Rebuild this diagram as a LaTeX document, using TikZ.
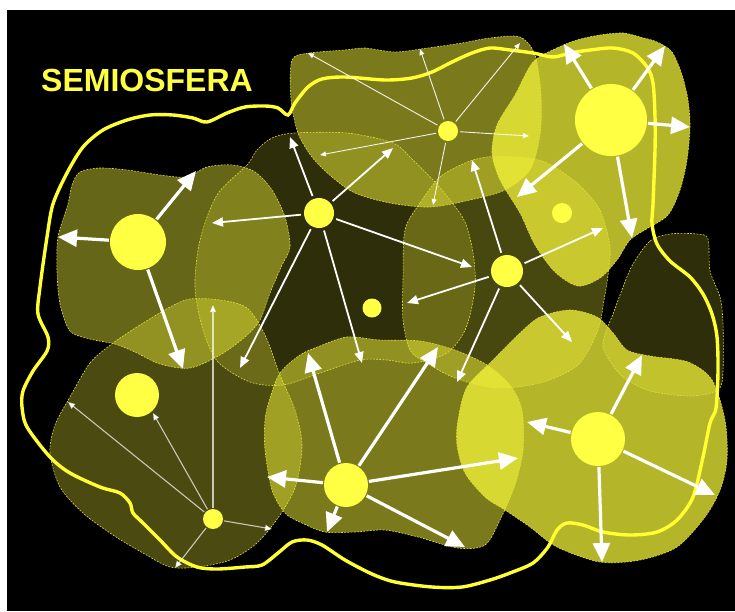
\documentclass[tikz,border=0pt]{standalone}
\usepackage{fontspec}
\newfontfamily\titlefont{Liberation Sans}
\usetikzlibrary{arrows.meta}
\definecolor{sy}{RGB}{255,255,60}
\definecolor{cy}{RGB}{255,255,68}
\definecolor{bl}{RGB}{225,225,60}
\definecolor{curvey}{RGB}{255,255,50}
\begin{document}
\begin{tikzpicture}[x=1pt,y=-1pt,
  blobline/.style={draw=bl, line width=0.6pt, dash pattern=on 1.8pt off 1.4pt},
  dot/.style={circle, fill=cy, inner sep=0pt, draw=none},
  bigarrow/.style={draw=white, line width=3.2pt, -{Triangle[length=19pt,width=17pt]}, shorten <=1pt},
  midarrow/.style={draw=white, line width=1.8pt, -{Triangle[length=11pt,width=9pt]}, shorten <=3pt},
  thinarrow/.style={draw=white, draw opacity=0.9, line width=0.9pt, -{Triangle[length=6pt,width=5pt]}, shorten <=2pt},
  greyarrow/.style={draw=white, draw opacity=0.7, line width=1.1pt, -{Triangle[length=7pt,width=6pt]}, shorten <=1pt},
  semio/.style={draw=curvey, line width=3.4pt}
]
\useasboundingbox (0,0) rectangle (735,611);
\fill[white] (0,0) rectangle (735,611);
\fill[black] (7,10) rectangle (735,611);

% blob outlines
\path[save path=\bLeft] plot[smooth cycle] coordinates {(68,204) (72,185) (80,172) (100,168) (127,170) (160,175) (187,177) (207,167) (233,165) (255,172) (272,190) (285,217) (290,247) (282,265) (270,293) (260,320) (245,337) (220,355) (190,368) (160,364) (135,352) (115,344) (90,339) (70,331) (60,304) (57,271) (58,237)};
\path[save path=\bCL] plot[smooth cycle] coordinates {(247,165) (257,150) (272,138) (295,133) (347,133) (393,143) (413,160) (433,180) (450,200) (465,222) (473,253) (475,287) (466,328) (447,353) (413,363) (387,360) (360,360) (320,373) (283,385) (250,382) (218,362) (203,330) (195,287) (200,240) (217,195)};
\path[save path=\bTop] plot[smooth cycle] coordinates {(292,60) (310,53) (345,50) (365,48) (395,52) (428,48) (462,43) (490,38) (520,37) (535,55) (541,95) (540,135) (530,170) (505,190) (470,200) (430,207) (390,203) (355,193) (332,177) (312,157) (298,133) (291,100)};
\path[save path=\bTR] plot[smooth cycle] coordinates {(533,62) (557,48) (577,40) (600,35) (623,33) (640,37) (657,42) (672,52) (682,75) (688,100) (690,127) (687,160) (680,190) (668,215) (648,228) (630,240) (617,260) (600,278) (578,286) (555,272) (535,245) (520,213) (500,180) (492,153) (497,125) (515,95)};
\path[save path=\bRC] plot[smooth cycle] coordinates {(405,230) (420,203) (440,177) (465,163) (487,157) (520,157) (547,163) (577,183) (600,210) (610,247) (608,275) (604,300) (598,330) (578,365) (540,383) (495,388) (455,378) (425,362) (410,350) (403,320) (403,280)};
\path[save path=\bRD] plot[smooth cycle] coordinates {(633,264) (650,241) (670,234) (697,234) (708,239) (710,271) (720,297) (723,324) (723,371) (718,390) (690,396) (650,391) (623,377) (610,361) (603,347) (605,334) (613,314) (623,287)};
\path[save path=\bBR] plot[smooth cycle] coordinates {(458,420) (467,387) (493,360) (520,333) (540,317) (570,310) (597,317) (613,333) (627,350) (650,356) (688,362) (712,380) (725,420) (727,460) (720,490) (705,517) (677,547) (640,560) (600,562) (557,547) (530,527) (505,510) (485,497) (465,473) (457,445)};
\path[save path=\bBC] plot[smooth cycle] coordinates {(270,398) (280,373) (300,355) (320,346) (347,337) (380,340) (420,341) (455,350) (487,365) (510,385) (522,410) (523,450) (515,485) (500,520) (485,545) (458,548) (418,537) (385,530) (355,532) (325,532) (302,523) (285,513) (272,490) (265,450) (265,420)};
\path[save path=\bBL] plot[smooth cycle] coordinates {(70,397) (90,363) (113,343) (140,325) (170,307) (190,299) (220,300) (247,308) (265,335) (280,375) (295,410) (302,445) (296,485) (280,515) (257,543) (230,560) (197,567) (170,567) (143,553) (113,535) (83,513) (60,487) (50,453) (55,425)};

% fills
\path[use path=\bLeft, fill=sy, fill opacity=0.40];
\path[use path=\bCL, fill=sy, fill opacity=0.18];
\path[use path=\bTop, fill=sy, fill opacity=0.48];
\path[use path=\bTR, fill=sy, fill opacity=0.71];
\path[use path=\bRC, fill=sy, fill opacity=0.28];
\path[use path=\bRD, fill=sy, fill opacity=0.18];
\path[use path=\bBR, fill=sy, fill opacity=0.71];
\path[use path=\bBC, fill=sy, fill opacity=0.48];
\path[use path=\bBL, fill=sy, fill opacity=0.29];
% dashed borders
\path[use path=\bLeft, blobline];
\path[use path=\bCL, blobline];
\path[use path=\bTop, blobline];
\path[use path=\bTR, blobline];
\path[use path=\bRC, blobline];
\path[use path=\bRD, blobline];
\path[use path=\bBR, blobline];
\path[use path=\bBC, blobline];
\path[use path=\bBL, blobline];

% semiosphere boundary
\draw[semio] plot[smooth cycle, tension=0.5] coordinates {(53,204) (67,173) (83,147) (103,130) (127,120) (150,115) (173,115) (193,118) (207,122) (227,113) (245,107) (265,106) (278,108) (288,115) (295,103) (308,87) (322,79) (345,77) (385,80) (412,78) (432,72) (452,62) (472,53) (490,48) (510,50) (533,53) (553,57) (570,53) (590,50) (613,48) (633,53) (647,67) (653,83) (655,117) (655,150) (653,204) (652,224) (657,244) (670,261) (690,277) (703,294) (712,314) (717,337) (718,371) (716,408) (710,423) (703,457) (693,497) (677,520) (657,532) (630,535) (603,532) (583,525) (567,523) (557,530) (548,547) (533,563) (510,573) (490,580) (462,587) (432,587) (395,582) (372,574) (345,560) (322,545) (307,540) (292,542) (278,553) (262,565) (245,567) (217,569) (197,567) (177,557) (160,540) (143,523) (133,513) (130,503) (120,493) (100,487) (70,473) (50,457) (27,427) (22,407) (23,391) (33,371) (47,351) (48,337) (38,314) (40,287) (47,237)};

% title
\node[anchor=base west, inner sep=0pt, text=cy, font=\titlefont\bfseries\fontsize{32}{38}\selectfont] (title) at (41,91) {SEMIOSFERA};

% nodes
\node[dot, minimum size=20pt] (n1) at (448,131) {};
\node[dot, minimum size=72pt] (n2) at (611,120) {};
\node[dot, minimum size=20pt] (n3) at (562,213) {};
\node[dot, minimum size=30pt] (n4) at (319,213) {};
\node[dot, minimum size=32pt] (n5) at (507,271) {};
\node[dot, minimum size=19pt] (n6) at (372,308) {};
\node[dot, minimum size=56pt] (n7) at (138,242) {};
\node[dot, minimum size=44pt] (n8) at (137,395) {};
\node[dot, minimum size=20pt] (n9) at (213,519) {};
\node[dot, minimum size=44pt] (n10) at (346,485) {};
\node[dot, minimum size=54pt] (n11) at (598,439) {};

% arrow tips
\coordinate (a1) at (308,53);
\coordinate (a2) at (420,49);
\coordinate (a3) at (320,155);
\coordinate (a4) at (433,205);
\coordinate (a5) at (529,136);
\coordinate (a6) at (520,43);
\draw[thinarrow] (n1) -- (a1);
\draw[thinarrow] (n1) -- (a2);
\draw[thinarrow] (n1) -- (a3);
\draw[thinarrow] (n1) -- (a4);
\draw[thinarrow] (n1) -- (a5);
\draw[thinarrow] (n1) -- (a6);

\coordinate (b1) at (564,44);
\coordinate (b2) at (665,46);
\coordinate (b3) at (690,127);
\coordinate (b4) at (517,197);
\coordinate (b5) at (632,238);
\draw[bigarrow] (n2) -- (b1);
\draw[bigarrow] (n2) -- (b2);
\draw[bigarrow] (n2) -- (b3);
\draw[bigarrow] (n2) -- (b4);
\draw[bigarrow] (n2) -- (b5);

\coordinate (c1) at (212,223);
\coordinate (c2) at (290,137);
\coordinate (c3) at (393,148);
\coordinate (c4) at (472,267);
\coordinate (c5) at (362,363);
\coordinate (c6) at (240,368);
\draw[midarrow] (n4) -- (c1);
\draw[midarrow] (n4) -- (c2);
\draw[midarrow] (n4) -- (c3);
\draw[midarrow] (n4) -- (c4);
\draw[midarrow] (n4) -- (c5);
\draw[midarrow] (n4) -- (c6);

\coordinate (d1) at (472,160);
\coordinate (d2) at (603,228);
\coordinate (d3) at (407,303);
\coordinate (d4) at (572,342);
\coordinate (d5) at (457,382);
\draw[midarrow] (n5) -- (d1);
\draw[midarrow] (n5) -- (d2);
\draw[midarrow] (n5) -- (d3);
\draw[midarrow] (n5) -- (d4);
\draw[midarrow] (n5) -- (d5);

\coordinate (e1) at (58,237);
\coordinate (e2) at (196,171);
\coordinate (e3) at (183,369);
\draw[bigarrow] (n7) -- (e1);
\draw[bigarrow] (n7) -- (e2);
\draw[bigarrow] (n7) -- (e3);

\coordinate (f1) at (68,402);
\coordinate (f2) at (153,413);
\coordinate (f3) at (213,305);
\coordinate (f4) at (272,529);
\coordinate (f5) at (175,568);
\draw[greyarrow] (n9) -- (f1);
\draw[greyarrow] (n9) -- (f2);
\draw[greyarrow] (n9) -- (f3);
\draw[greyarrow] (n9) -- (f4);
\draw[greyarrow] (n9) -- (f5);

\coordinate (g1) at (267,477);
\coordinate (g2) at (308,353);
\coordinate (g3) at (438,347);
\coordinate (g4) at (518,458);
\coordinate (g5) at (465,547);
\coordinate (g6) at (327,532);
\draw[bigarrow] (n10) -- (g1);
\draw[bigarrow] (n10) -- (g2);
\draw[bigarrow] (n10) -- (g3);
\draw[bigarrow] (n10) -- (g4);
\draw[bigarrow] (n10) -- (g5);
\draw[bigarrow] (n10) -- (g6);

\coordinate (h1) at (527,422);
\coordinate (h2) at (642,355);
\coordinate (h3) at (715,495);
\coordinate (h4) at (602,562);
\draw[bigarrow] (n11) -- (h1);
\draw[bigarrow] (n11) -- (h2);
\draw[bigarrow] (n11) -- (h3);
\draw[bigarrow] (n11) -- (h4);
\end{tikzpicture}
\end{document}
